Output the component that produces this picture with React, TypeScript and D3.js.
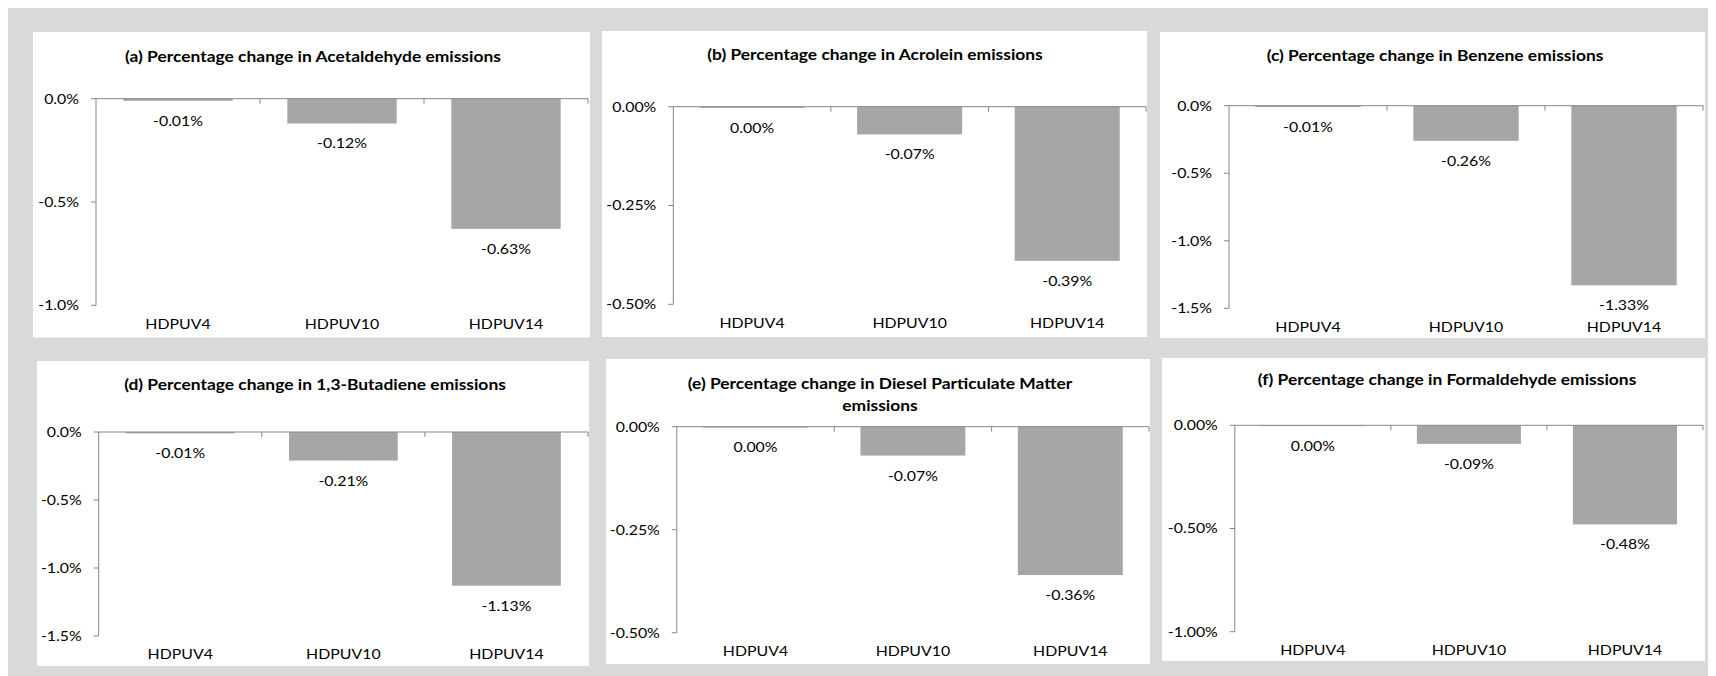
import React from "react";
import * as d3 from "d3";

// ---------- data ----------
const categories = ["HDPUV4", "HDPUV10", "HDPUV14"];

const titleA = ["(a) Percentage change in Acetaldehyde emissions"];
const titleB = ["(b) Percentage change in Acrolein emissions"];
const titleC = ["(c) Percentage change in Benzene emissions"];
const titleD = ["(d) Percentage change in 1,3-Butadiene emissions"];
const titleE = ["(e) Percentage change in Diesel Particulate Matter", "emissions"];
const titleF = ["(f) Percentage change in Formaldehyde emissions"];

// percent values
const acetaldehyde = [-0.01, -0.12, -0.63];
const acrolein = [-0.003, -0.07, -0.39];
const benzene = [-0.01, -0.26, -1.33];
const butadiene = [-0.01, -0.21, -1.13];
const dieselPM = [-0.002, -0.07, -0.36];
const formaldehyde = [-0.004, -0.09, -0.48];

const ticksA = [0, -0.5, -1.0];
const ticksB = [0, -0.25, -0.5];
const ticksC = [0, -0.5, -1.0, -1.5];
const ticksD = [0, -0.5, -1.0, -1.5];
const ticksE = [0, -0.25, -0.5];
const ticksF = [0, -0.5, -1.0];

const tickDecimalsA = 1;
const tickDecimalsB = 2;
const tickDecimalsC = 1;
const tickDecimalsD = 1;
const tickDecimalsE = 2;
const tickDecimalsF = 2;

// ---------- layout (page coordinates) ----------
const layoutA = { panel: [33, 32, 590, 337.5], plot: [96, 98.7, 588, 305.3], titleX: 313, titleY: 62 };
const layoutB = { panel: [602, 31, 1147, 337], plot: [673.3, 106.7, 1146, 304.3], titleX: 875, titleY: 60 };
const layoutC = { panel: [1160, 32, 1705, 338], plot: [1229, 105.7, 1703, 308.3], titleX: 1435, titleY: 60.7 };
const layoutD = { panel: [37, 361, 589, 666], plot: [98.7, 432, 588, 636], titleX: 315, titleY: 390 };
const layoutE = { panel: [606, 359, 1150, 664], plot: [676.8, 426.7, 1149, 632.7], titleX: 880, titleY: 389.3 };
const layoutF = { panel: [1162, 358, 1705, 661], plot: [1234.8, 425.3, 1703, 631.7], titleX: 1447, titleY: 385.3 };

const charts = [
  { title: titleA, values: acetaldehyde, ticks: ticksA, dec: tickDecimalsA, layout: layoutA },
  { title: titleB, values: acrolein, ticks: ticksB, dec: tickDecimalsB, layout: layoutB },
  { title: titleC, values: benzene, ticks: ticksC, dec: tickDecimalsC, layout: layoutC },
  { title: titleD, values: butadiene, ticks: ticksD, dec: tickDecimalsD, layout: layoutD },
  { title: titleE, values: dieselPM, ticks: ticksE, dec: tickDecimalsE, layout: layoutE },
  { title: titleF, values: formaldehyde, ticks: ticksF, dec: tickDecimalsF, layout: layoutF },
];

// ---------- styles ----------
const FONT = "Lato, 'Open Sans', sans-serif";
const FS = 13.8;
const SX = 1.15;
const TFS = 14.4;
const TSX = 1.21;
const BG = "#d9d9d9";
const BAR = "#a6a6a6";
const AXIS = "#868686";
const TXT = "#000000";

const locale = d3.formatLocale({
  decimal: ".",
  thousands: ",",
  grouping: [3],
  currency: ["$", ""],
  minus: "-",
});

function T({ x, y, children, anchor = "middle", bold = false }: any) {
  return (
    <text
      transform={`translate(${x},${y}) scale(${bold ? TSX : SX},1)`}
      textAnchor={anchor}
      fontFamily={FONT}
      fontSize={bold ? TFS : FS}
      fontWeight={bold ? 700 : 400}
      fill={TXT}
    >
      {children}
    </text>
  );
}

function Chart({ c }: any) {
  const [px0, py0, px1, py1] = c.layout.panel;
  const [l, t, r, b] = c.layout.plot;
  const x = d3
    .scaleBand<string>()
    .domain(categories)
    .range([l, r])
    .paddingInner(1 / 3)
    .paddingOuter(1 / 6);
  const y = d3
    .scaleLinear()
    .domain([0, d3.min(c.ticks) as number])
    .range([t, b]);
  const tickFmt = locale.format(`.${c.dec}f`);
  const valFmt = locale.format(".2f");
  const step = x.step();
  const bounds = categories.map((_, i) => l + step * (i + 1));
  const capOff = FS * 0.36;

  return (
    <g>
      <rect x={px0} y={py0} width={px1 - px0} height={py1 - py0} fill="#ffffff" />
      {c.title.map((line: string, i: number) => (
        <T key={i} x={c.layout.titleX} y={c.layout.titleY + i * 21.7} bold>
          {line}
        </T>
      ))}
      {/* bars */}
      {c.values.map((v: number, i: number) => (
        <rect
          key={i}
          x={x(categories[i])}
          y={y(0)}
          width={x.bandwidth()}
          height={Math.max(0, y(v) - y(0))}
          fill={BAR}
        />
      ))}
      {/* y axis */}
      <line x1={l} x2={l} y1={y(0)} y2={b} stroke={AXIS} strokeWidth={1} />
      {c.ticks.map((tv: number, i: number) => (
        <g key={i}>
          <line x1={l - 5} x2={l} y1={y(tv)} y2={y(tv)} stroke={AXIS} strokeWidth={1} />
          <T x={l - 17} y={y(tv) + capOff} anchor="end">
            {tickFmt(tv) + "%"}
          </T>
        </g>
      ))}
      {/* x axis */}
      <line x1={l} x2={r} y1={y(0)} y2={y(0)} stroke={AXIS} strokeWidth={1} />
      {bounds.map((bx, i) => (
        <line key={i} x1={bx} x2={bx} y1={y(0)} y2={y(0) + 5} stroke={AXIS} strokeWidth={1} />
      ))}
      {/* data labels */}
      {c.values.map((v: number, i: number) => (
        <T key={i} x={(x(categories[i]) as number) + x.bandwidth() / 2} y={y(v) + 20 + capOff}>
          {valFmt(v) + "%"}
        </T>
      ))}
      {/* category labels */}
      {categories.map((cat, i) => (
        <T key={cat} x={(x(cat) as number) + x.bandwidth() / 2} y={b + 18.5 + capOff}>
          {cat}
        </T>
      ))}
    </g>
  );
}

export default function App() {
  return (
    <svg width={1708} height={668} style={{ display: "block" }}>
      <g transform="translate(-8,-8)">
        <rect x={8} y={8} width={1708} height={668} fill={BG} />
        {charts.map((c, i) => (
          <Chart key={i} c={c} />
        ))}
      </g>
    </svg>
  );
}
